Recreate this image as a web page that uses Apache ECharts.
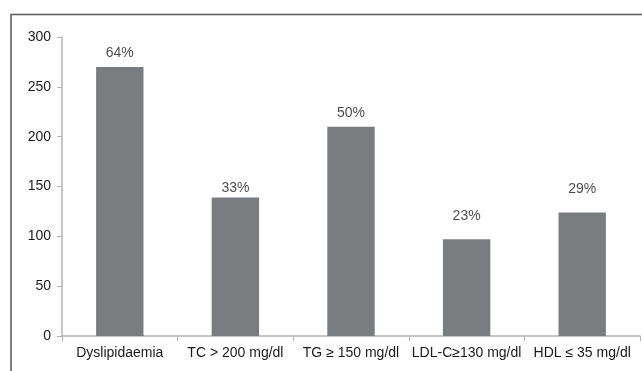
<!DOCTYPE html>
<html>
<head>
<meta charset="utf-8">
<script src="https://cdn.jsdelivr.net/npm/echarts@6/dist/echarts.min.js"></script>
<style>
html,body{margin:0;padding:0;background:#fff;}
#chart{width:642px;height:371px;}
</style>
</head>
<body>
<div id="chart"></div>
<script>
var categories = ['Dyslipidaemia', 'TC > 200 mg/dl', 'TG \u2265 150 mg/dl', 'LDL-C\u2265130 mg/dl', 'HDL \u2264 35 mg/dl'];
var counts = [270, 139, 210, 97, 124];
var percentLabels = ['64%', '33%', '50%', '23%', '29%'];
var labelHeights = [284, 148, 224, 120, 147];
var yTicks = [0, 50, 100, 150, 200, 250, 300];

var font = '"Liberation Sans", Arial, sans-serif';
var chart = echarts.init(document.getElementById('chart'), null, {renderer: 'canvas'});
chart.setOption({
  animation: false,
  backgroundColor: '#fff',
  grid: {left: 62, right: 2, top: 37, bottom: 35, containLabel: false},
  graphic: [{
    type: 'polyline',
    shape: {points: [[11, 371], [11, 14.5], [642, 14.5]]},
    style: {stroke: '#5a5a5a', lineWidth: 1.5, fill: null}
  }],
  xAxis: {
    type: 'category',
    data: categories,
    axisLine: {lineStyle: {color: '#b4b4b4', width: 1.5}},
    axisTick: {show: true, length: 5, alignWithLabel: false, lineStyle: {color: '#b4b4b4'}},
    axisLabel: {color: '#1a1a1a', fontFamily: font, fontSize: 14, margin: 10, interval: 0}
  },
  yAxis: {
    type: 'value',
    min: yTicks[0],
    max: yTicks[yTicks.length - 1],
    interval: 50,
    splitLine: {show: false},
    axisLine: {show: true, lineStyle: {color: '#b4b4b4', width: 1.5}},
    axisTick: {show: true, length: 5, lineStyle: {color: '#b4b4b4'}},
    axisLabel: {color: '#1a1a1a', fontFamily: font, fontSize: 14, margin: 11}
  },
  series: [{
    type: 'bar',
    data: counts,
    barWidth: '41%',
    itemStyle: {color: '#7b7c80'},
    silent: true
  }, {
    type: 'scatter',
    data: labelHeights,
    symbolSize: 0,
    silent: true,
    label: {
      show: true,
      position: 'inside',
      color: '#1a1a1a',
      fontFamily: font,
      fontSize: 14,
      formatter: function (p) { return percentLabels[p.dataIndex]; }
    }
  }]
});
</script>
</body>
</html>
